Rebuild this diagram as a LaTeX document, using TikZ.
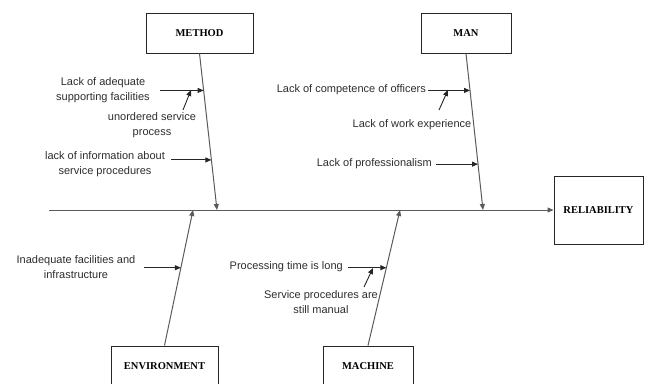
\documentclass[tikz,border=0pt]{standalone}
\usepackage{fontspec}
\setmainfont{Liberation Sans}
\newfontfamily\catfont{Liberation Serif}
\usetikzlibrary{positioning,calc,arrows.meta}
\definecolor{ink}{RGB}{45,45,45}
\definecolor{bonegray}{RGB}{90,90,90}

\begin{document}
\begin{tikzpicture}[x=1pt, y=-1pt, auto,
	>={Triangle[length=6pt,width=5pt]},
	catbox/.style={draw=black!85, line width=1pt, minimum height=40pt, inner sep=0pt, font=\catfont\bfseries\fontsize{10.5}{12}\selectfont},
	cause/.style={text=ink, align=center, inner sep=2pt, font=\fontsize{11}{15}\selectfont}]

	\useasboundingbox (0,0) rectangle (650,383);

	\node[catbox, minimum width=107pt] (method) at (199.5,33) {METHOD};
	\node[catbox, minimum width=90pt] (man) at (466,33) {MAN};
	\node[catbox, minimum width=89pt, minimum height=68pt] (rel) at (598.5,210) {RELIABILITY};
	\node[catbox, minimum width=107pt] (env) at (164.5,366) {ENVIRONMENT};
	\node[catbox, minimum width=90pt] (mach) at (368,366) {MACHINE};

	\coordinate (tail) at (49,210);
	\coordinate (mhead) at (217,210);
	\coordinate (nhead) at (483,210);
	\coordinate (ehead) at (193,210);
	\coordinate (chead) at (400,210);

	\coordinate (m1) at ($(method.south)!0.236!(mhead)$);
	\coordinate (m2) at ($(method.south)!0.68!(mhead)$);
	\coordinate (n1) at ($(man.south)!0.236!(nhead)$);
	\coordinate (n2) at ($(man.south)!0.707!(nhead)$);
	\coordinate (e1) at ($(env.north)!0.574!(ehead)$);
	\coordinate (c1) at ($(mach.north)!0.574!(chead)$);

	\node[cause] (adq) at (103,90) {Lack of adequate\\supporting facilities};
	\node[cause] (unord) at (152,125) {unordered service\\process};
	\node[cause] (info) at (105,164) {lack of information about\\service procedures};
	\node[cause, anchor=east] (comp) at (428,90) {Lack of competence of officers};
	\node[cause] (work) at (412,125) {Lack of work experience};
	\node[cause, anchor=east] (prof) at (434,164) {Lack of professionalism};
	\node[cause] (inad) at (76,267) {Inadequate facilities and\\infrastructure};
	\node[cause, anchor=east] (proc) at (345,267) {Processing time is long};
	\node[cause] (manual) at (321,302) {Service procedures are\\still manual};

	\coordinate (u0) at (183,110);
	\coordinate (u1) at (191,90);
	\coordinate (w0) at (439,110);
	\coordinate (w1) at (448,90);
	\coordinate (s0) at (364,287);
	\coordinate (s1) at (373,268);

\begin{scope}[every edge/.style={draw=bonegray, line width=1pt}]
	\path [->] (tail) edge (rel.west);
	\path [->] (method.south) edge (mhead);
	\path [->] (man.south) edge (nhead);
	\path [->] (env.north) edge (ehead);
	\path [->] (mach.north) edge (chead);
\end{scope}
\begin{scope}[every edge/.style={draw=black!85, line width=0.9pt}]
	\path [->] (adq.east |- m1) edge[shorten <=8pt] (m1);
	\path [->] (u0) edge (u1);
	\path [->] (info.east |- m2) edge[shorten <=4pt] (m2);
	\path [->] (comp.east |- n1) edge (n1);
	\path [->] (w0) edge (w1);
	\path [->] (prof.east |- n2) edge[shorten <=2pt] (n2);
	\path [->] (inad.east |- e1) edge[shorten <=6pt] (e1);
	\path [->] (proc.east |- c1) edge[shorten <=3pt] (c1);
	\path [->] (s0) edge (s1);
\end{scope}
\end{tikzpicture}
\end{document}
